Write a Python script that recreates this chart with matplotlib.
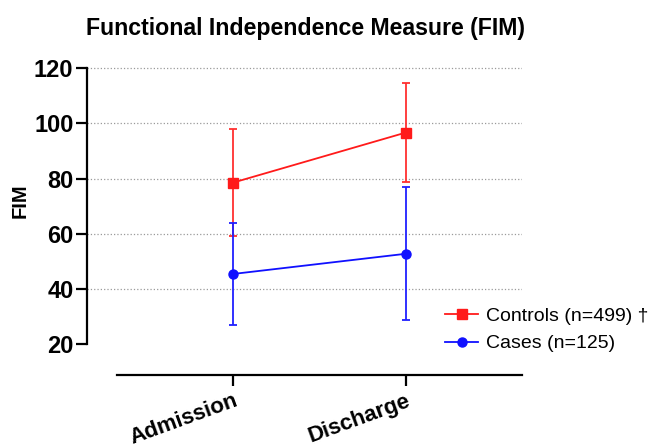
import matplotlib
matplotlib.use("Agg")
import matplotlib.pyplot as plt

plt.rcParams['font.family'] = ['Liberation Sans', 'DejaVu Sans']

timepoints = ["Admission", "Discharge"]
controls_mean = [78.6, 96.7]
controls_sd = [19.4, 18.0]
cases_mean = [45.5, 52.8]
cases_sd = [18.4, 24.1]
grid_lines = [40, 60, 80, 100, 120]

fig = plt.figure(figsize=(6.53, 4.47), dpi=100)
ax = fig.add_axes([0.1337, 0.1611, 0.6662, 0.6924])

x = list(range(len(timepoints)))

for y in grid_lines:
    ax.axhline(y, color='#9a9a9a', linestyle=':', linewidth=0.9, zorder=0)

# controls (red) first, cases (blue) on top
ax.errorbar(x, controls_mean, yerr=controls_sd, fmt='none', ecolor='#ff3030',
            elinewidth=1.3, capsize=3.2, capthick=1.3, zorder=2)
l1, = ax.plot(x, controls_mean, color='#ff1a1a', marker='s', markersize=6.5,
              linewidth=1.3, zorder=3, label='Controls (n=499) †')
ax.errorbar(x, cases_mean, yerr=cases_sd, fmt='none', ecolor='#2020ff',
            elinewidth=1.3, capsize=3.2, capthick=1.3, zorder=4)
l2, = ax.plot(x, cases_mean, color='#1010ff', marker='o', markersize=6.5,
              linewidth=1.3, zorder=5, label='Cases (n=125)')

ax.set_xlim(-0.847, 1.676)
ax.set_ylim(8.9, 121)

ax.spines['top'].set_visible(False)
ax.spines['right'].set_visible(False)
ax.spines['left'].set_bounds(20, 120)
ax.spines['bottom'].set_bounds(-0.673, 1.676)
ax.spines['left'].set_linewidth(1.6)
ax.spines['bottom'].set_linewidth(1.6)

ax.set_yticks([20, 40, 60, 80, 100, 120])
ax.set_xticks(x)
ax.set_xticklabels(timepoints, rotation=20, ha='right', rotation_mode='anchor',
                   fontsize=16, fontweight='bold')
ax.tick_params(axis='y', length=8, width=1.6, pad=2, labelsize=17)
ax.tick_params(axis='x', length=8, width=1.6, pad=3)
for t in ax.get_yticklabels():
    t.set_fontweight('bold')

fig.text(305 / 653, 1 - 28 / 447, "Functional Independence Measure (FIM)",
         ha='center', va='center', fontsize=16.7, fontweight='bold')
fig.text(20 / 653, 1 - 201 / 447, "FIM", rotation=90, ha='center', va='center',
         fontsize=14.5, fontweight='bold')

fig.legend(handles=[l1, l2], loc='center left',
           bbox_to_anchor=(445 / 653, 1 - 330 / 447), frameon=False,
           fontsize=14, handlelength=1.7, handletextpad=0.41,
           labelspacing=0.5, borderpad=0, borderaxespad=0)

fig.savefig("out.png", dpi=100)
